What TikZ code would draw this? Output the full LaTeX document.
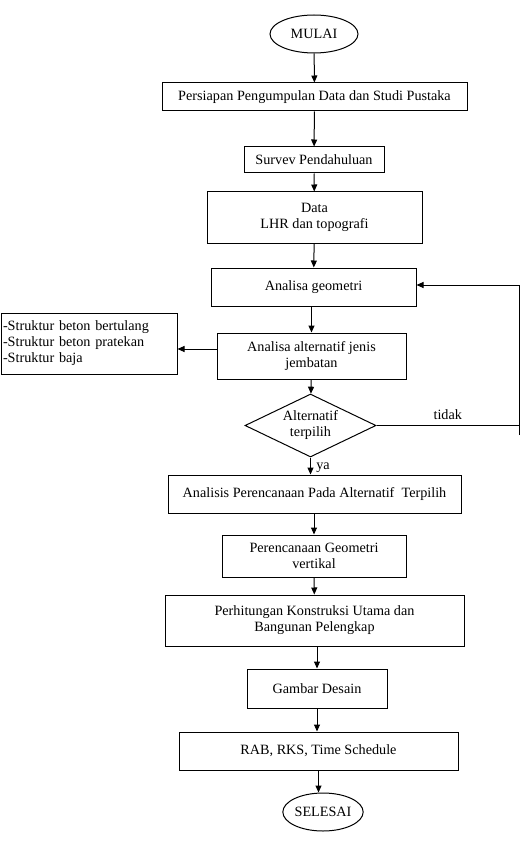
\documentclass[tikz,border=0pt]{standalone}
\usepackage{fontspec}
\setmainfont{Liberation Serif}
\usepackage{tikz}
\usetikzlibrary{arrows.meta,shapes,positioning}

\begin{document}
\begin{tikzpicture}[x=1pt, y=-1pt, line width=1pt,
        font=\fontsize{14.2}{16}\selectfont,
        box/.style={draw, rectangle, inner sep=0pt, align=center},
        term/.style={draw, ellipse, inner sep=0pt},
        decide/.style={draw, diamond, aspect=2.08, inner sep=0pt, minimum width=131, minimum height=63, align=center},
        flow/.style={-{Triangle[length=7pt, width=6pt]}}]
        \useasboundingbox (0,0) rectangle (528,850);

        % Main column - preparation
        \node[term, minimum width=88, minimum height=38] (start) at (314,34) {MULAI};
        \node[box, minimum width=305, minimum height=28] (prep) at (314.5,97) {Persiapan Pengumpulan Data dan Studi Pustaka};
        \node[box, minimum width=140, minimum height=26] (survey) at (314,160) {Survev Pendahuluan};
        \node[box, minimum width=215, minimum height=51] (data) at (314.5,217.5) {Data\\LHR dan topografi};
        \node[box, minimum width=205, minimum height=38] (geo) at (313.5,287) {Analisa geometri};
        \node[box, minimum width=189, minimum height=46] (alt) at (311.5,356) {Analisa alternatif jenis\\jembatan};
        \node[decide] (choice) at (310.5,425.5) {Alternatif\\terpilih};

        % Side box - bridge types
        \node[box, minimum width=176, minimum height=61, text width=172, align=left] (types) at (89,343.5) {-Struktur beton bertulang\\-Struktur beton pratekan\\-Struktur baja};

        % Main column - design
        \node[box, minimum width=293, minimum height=38] (plan) at (314.5,494) {Analisis Perencanaan Pada Alternatif~ Terpilih};
        \node[box, minimum width=184, minimum height=42] (vert) at (314,556) {Perencanaan Geometri\\vertikal};
        \node[box, minimum width=299, minimum height=51] (calc) at (314.5,620.5) {Perhitungan Konstruksi Utama dan\\Bangunan Pelengkap};
        \node[box, minimum width=140, minimum height=39] (drawing) at (317,688.5) {Gambar Desain};
        \node[box, minimum width=279, minimum height=38] (rab) at (318.5,751) {RAB, RKS, Time Schedule};
        \node[term, minimum width=80, minimum height=38] (stop) at (323,812) {SELESAI};

        \coordinate (loop) at (519,435);

        % Connectors
        \draw[flow] (start) -- (prep);
        \draw[flow] (prep) -- (survey);
        \draw[flow] (survey) -- (data);
        \draw[flow] (data) -- (geo);
        \draw[flow] (geo.south -| alt.north) -- (alt.north);
        \draw[flow] ([yshift=7pt]alt.west) -- ([yshift=7pt]alt.west -| types.east);
        \draw[flow] (alt) -- (choice);
        \draw (choice.east) -- node[above, yshift=2pt] {tidak} (choice.east -| loop);
        \draw[flow] (loop) |- ([yshift=2pt]geo.east);
        \draw[flow] (choice.south) -- node[right, pos=0.6, xshift=2pt] {ya} (choice.south |- plan.north);
        \draw[flow] (plan.south -| vert.north) -- (vert.north);
        \draw[flow] (vert) -- (calc);
        \draw[flow] (drawing.north |- calc.south) -- (drawing.north);
        \draw[flow] (drawing.south) -- (drawing.south |- rab.north);
        \draw[flow] (rab.south) -- (rab.south |- stop.north);
    \end{tikzpicture}
\end{document}
